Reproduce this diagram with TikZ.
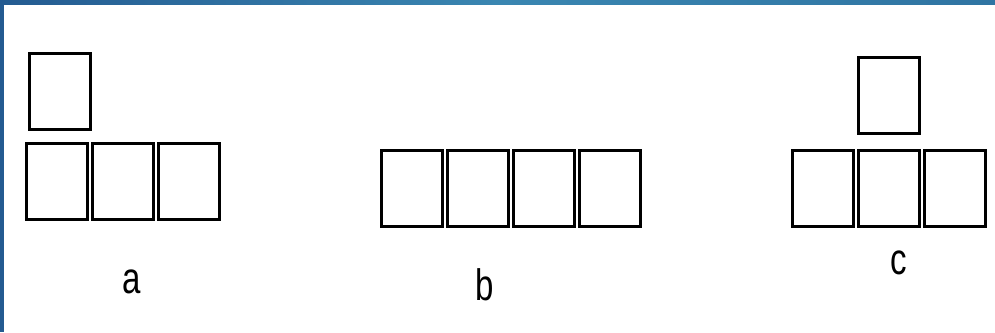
\documentclass[tikz,border=0pt]{standalone}
\usepackage{fontspec}
\setmainfont{Liberation Sans}
\usetikzlibrary{positioning}
\definecolor{frameblue}{HTML}{245B91}
\definecolor{framemid}{HTML}{3A86B1}
\definecolor{frameend}{HTML}{2F74A2}

\begin{document}
\begin{tikzpicture}[
            x=1pt, y=-1pt,
            node distance=5pt,
            cell/.style={rectangle, draw, line width=3pt, minimum width=61pt, minimum height=76pt, inner sep=0pt, outer sep=0pt},
            tag/.style={anchor=base, font=\fontsize{44}{44}\selectfont, inner sep=0pt}
        ]
            % frame of the window
            \useasboundingbox (0,0) rectangle (995,332);
            \shade[left color=frameblue, right color=frameend, middle color=framemid] (0,0) rectangle (995,4);
            \fill[frameblue] (0,0) rectangle (4,332);

            % a
            \node[cell] (a1) at (57,181.5) {};
            \node[cell, right=of a1] (a2) {};
            \node[cell, right=of a2] (a3) {};
            \node[cell, above=14pt of a1, xshift=2.5pt] (a0) {};
            \node[tag] (la) at (132,293) {\scalebox{0.75}[1]{a}};

            % b
            \node[cell] (b1) at (412,188.5) {};
            \node[cell, right=of b1] (b2) {};
            \node[cell, right=of b2] (b3) {};
            \node[cell, right=of b3] (b4) {};
            \node[tag] (lb) at (485,300) {\scalebox{0.75}[1]{b}};

            % c
            \node[cell] (c1) at (822.5,188.5) {};
            \node[cell, right=of c1] (c2) {};
            \node[cell, right=of c2] (c3) {};
            \node[cell, above=17pt of c2] (c0) {};
            \node[tag] (lc) at (899,274) {\scalebox{0.75}[1]{c}};
        \end{tikzpicture}
\end{document}
